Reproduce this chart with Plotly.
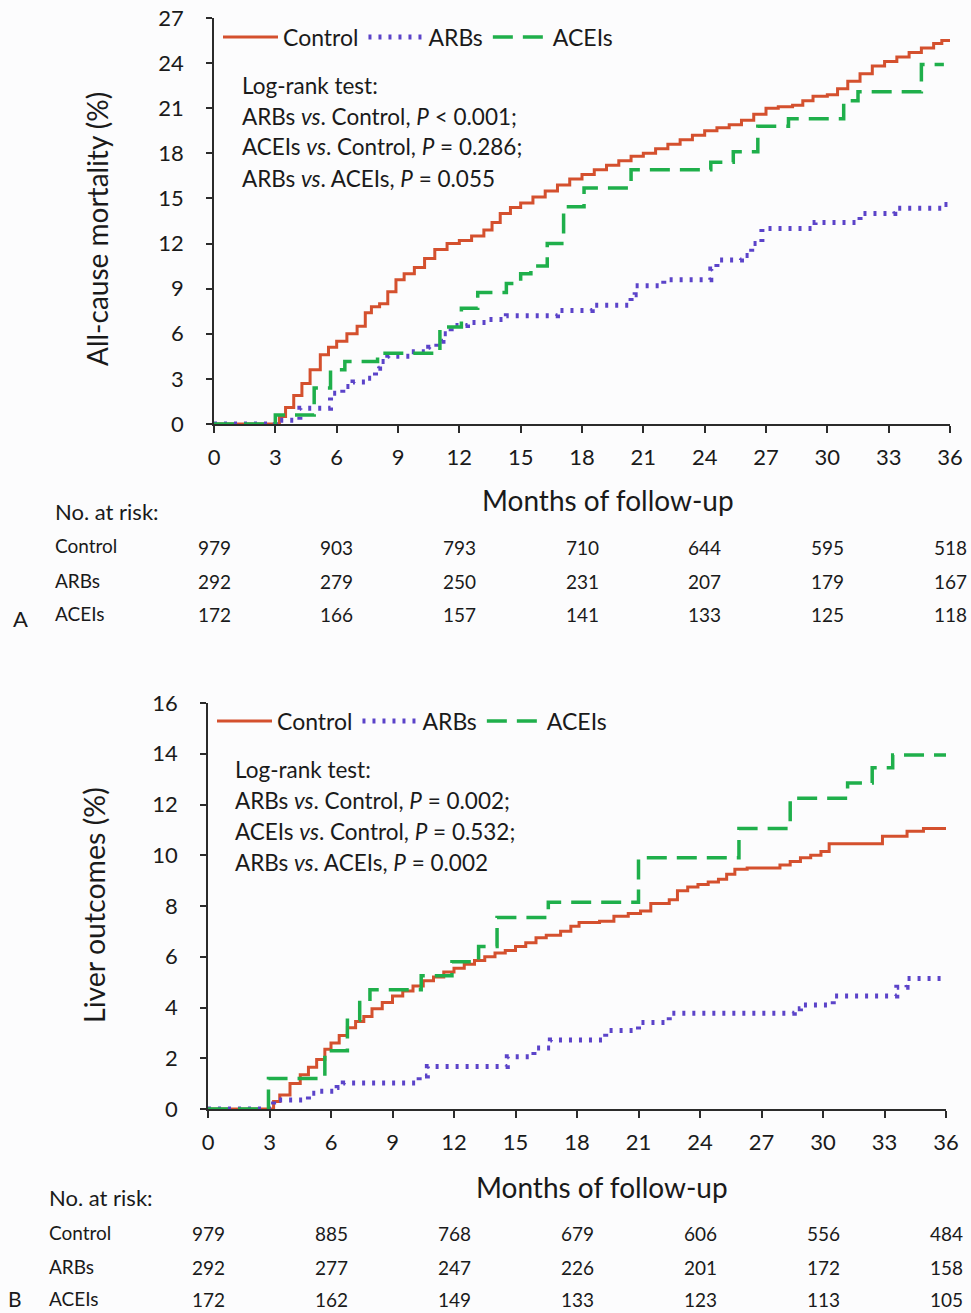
import plotly.graph_objects as go

# ---------------- Data ----------------
months_ticks = list(range(0, 37, 3))
risk_months = [0, 6, 12, 18, 24, 30, 36]

# Panel A: all-cause mortality (%)
a_ctrl_t = [0, 2.9, 3.2, 3.5, 3.9, 4.3, 4.7, 5.2, 5.6, 6.0, 6.5, 7.0, 7.4, 7.7, 8.1, 8.5, 8.9, 9.3, 9.8,
            10.3, 10.8, 11.4, 12.0, 12.6, 13.2, 13.6, 14.0, 14.5, 15.0, 15.6, 16.2, 16.8, 17.4, 18.0,
            18.6, 19.2, 19.8, 20.4, 21.0, 21.6, 22.2, 22.8, 23.4, 24.0, 24.6, 25.2, 25.8, 26.4, 27.0,
            27.6, 28.3, 28.8, 29.3, 30.0, 30.5, 31.0, 31.6, 32.2, 32.8, 33.4, 34.0, 34.6, 35.2, 35.6, 36.0]
a_ctrl_v = [0, 0, 0.5, 1.1, 1.9, 2.7, 3.6, 4.6, 5.1, 5.5, 6.0, 6.5, 7.4, 7.8, 8.0, 8.8, 9.6, 10.0, 10.4,
            11.0, 11.6, 12.0, 12.2, 12.5, 12.9, 13.4, 14.0, 14.4, 14.7, 15.1, 15.5, 15.9, 16.3, 16.6,
            16.9, 17.2, 17.5, 17.8, 18.0, 18.3, 18.6, 18.9, 19.2, 19.5, 19.7, 19.9, 20.2, 20.6, 21.0,
            21.1, 21.2, 21.5, 21.8, 21.9, 22.3, 22.8, 23.3, 23.8, 24.1, 24.4, 24.7, 25.0, 25.3, 25.5, 25.5]

a_arb_t = [0, 3.0, 4.2, 5.7, 6.3, 6.8, 7.5, 7.9, 8.1, 8.5, 9.6, 10.5, 10.9, 11.2, 11.6, 12.4, 13.3, 14.3,
           16.8, 18.5, 20.4, 20.6, 22.0, 24.3, 24.6, 25.8, 26.3, 26.8, 29.4, 31.6, 33.3, 35.6, 36.0]
a_arb_v = [0, 0.25, 1.05, 2.05, 2.5, 2.8, 3.05, 3.7, 4.15, 4.5, 4.8, 5.1, 5.5, 6.0, 6.55, 6.75, 6.95, 7.2,
           7.55, 7.9, 8.6, 9.2, 9.6, 10.3, 10.9, 11.2, 12.0, 13.0, 13.4, 14.0, 14.35, 14.6, 14.7]

a_ace_t = [0, 3.0, 4.9, 5.7, 6.4, 8.0, 11.05, 12.1, 12.9, 14.3, 15.0, 15.5, 16.3, 17.1, 18.1, 20.4,
           24.3, 25.4, 26.6, 28.1, 30.8, 31.5, 34.6, 35.7]
a_ace_v = [0, 0.6, 2.4, 3.6, 4.15, 4.7, 6.45, 7.7, 8.75, 9.35, 10.0, 10.5, 12.0, 14.45, 15.7, 16.9,
           17.4, 18.1, 19.8, 20.3, 21.5, 22.1, 23.9, 23.9]

a_risk_ctrl = [979, 903, 793, 710, 644, 595, 518]
a_risk_arb = [292, 279, 250, 231, 207, 179, 167]
a_risk_ace = [172, 166, 157, 141, 133, 125, 118]

# Panel B: liver outcomes (%)
b_ctrl_t = [0, 2.95, 3.2, 3.5, 4.0, 4.5, 4.9, 5.3, 5.7, 6.0, 6.4, 6.8, 7.2, 7.6, 8.0, 8.5, 9.0, 9.5, 10.0,
            10.5, 11.0, 11.5, 12.0, 12.5, 13.0, 13.5, 14.0, 14.5, 15.0, 15.5, 16.0, 16.5, 17.2, 17.7, 18.1,
            19.1, 19.8, 20.5, 21.1, 21.6, 22.5, 22.9, 23.4, 23.9, 24.4, 24.9, 25.3, 25.7, 26.3, 27.9, 28.4,
            28.9, 29.4, 29.9, 30.3, 32.3, 32.9, 33.9, 34.1, 34.9, 36.0]
b_ctrl_v = [0, 0, 0.3, 0.55, 1.0, 1.35, 1.65, 1.95, 2.35, 2.6, 2.9, 3.2, 3.45, 3.65, 3.95, 4.2, 4.45, 4.65, 4.85,
            5.05, 5.2, 5.4, 5.55, 5.7, 5.85, 6.0, 6.15, 6.25, 6.4, 6.55, 6.75, 6.85, 7.0, 7.2, 7.35,
            7.4, 7.6, 7.7, 7.8, 8.1, 8.25, 8.6, 8.75, 8.85, 8.95, 9.05, 9.25, 9.45, 9.5, 9.62, 9.75,
            9.9, 10.0, 10.15, 10.45, 10.45, 10.75, 10.75, 10.95, 11.05, 11.05]

b_arb_t = [0, 3.2, 4.9, 5.3, 6.3, 6.6, 10.3, 10.7, 14.6, 15.9, 16.7, 19.4, 21.0, 22.5, 28.6, 28.9, 30.5,
           33.6, 34.1, 36.0]
b_arb_v = [0, 0.35, 0.62, 0.7, 0.85, 1.02, 1.3, 1.67, 2.06, 2.4, 2.72, 3.09, 3.41, 3.77, 3.95, 4.1, 4.45,
           4.8, 5.14, 5.14]

b_ace_t = [0, 2.95, 5.7, 6.8, 7.4, 7.9, 10.4, 11.9, 13.2, 14.1, 16.6, 21.0, 25.9, 28.4, 31.2, 32.4, 33.4, 36.0]
b_ace_v = [0, 1.2, 2.3, 3.5, 4.2, 4.7, 5.25, 5.8, 6.4, 7.55, 8.15, 9.9, 11.05, 12.25, 12.85, 13.45, 13.95, 13.95]

b_risk_ctrl = [979, 885, 768, 679, 606, 556, 484]
b_risk_arb = [292, 277, 247, 226, 201, 172, 158]
b_risk_ace = [172, 162, 149, 133, 123, 113, 105]

group_names = ["Control", "ARBs", "ACEIs"]

# ---------------- Styling ----------------
W, H = 971, 1313
FONT = "Lato, 'Open Sans', sans-serif"
TXT = "#1a1a1a"
AX = "#2b2b2b"
RED = "#D4502E"
PURPLE = "#5B43C9"
GREEN = "#1FAF4B"
BG = "#FCFCFD"


def px_x(p):
    return p / W


def px_y(p):
    return 1 - p / H


fig = go.Figure()

styles = [
    dict(color=RED, width=3, dash="solid"),
    dict(color=PURPLE, width=5, dash="3px,7px"),
    dict(color=GREEN, width=3.5, dash="20px,10px"),
]

panelA = [(a_ctrl_t, a_ctrl_v), (a_arb_t, a_arb_v), (a_ace_t, a_ace_v)]
panelB = [(b_ctrl_t, b_ctrl_v), (b_arb_t, b_arb_v), (b_ace_t, b_ace_v)]

for i, (t, v) in enumerate(panelA):
    fig.add_trace(go.Scatter(x=t, y=v, mode="lines", line=dict(shape="hv", **styles[i]),
                             name=group_names[i], xaxis="x", yaxis="y", legend="legend"))
for i, (t, v) in enumerate(panelB):
    fig.add_trace(go.Scatter(x=t, y=v, mode="lines", line=dict(shape="hv", **styles[i]),
                             name=group_names[i], xaxis="x2", yaxis="y2", legend="legend2"))

axis_common = dict(showline=True, linecolor=AX, linewidth=1.5, ticks="outside", tickcolor=AX,
                   tickwidth=1.5, showgrid=False, zeroline=False, automargin=False,
                   tickfont=dict(family=FONT, size=22, color=TXT))

fig.update_layout(
    width=W, height=H,
    margin=dict(l=0, r=0, t=0, b=0, autoexpand=False),
    paper_bgcolor=BG, plot_bgcolor=BG,
    showlegend=True,
    xaxis=dict(domain=[px_x(214), px_x(950)], range=[0, 36], tickvals=months_ticks, ticklen=7,
               ticklabelstandoff=6, anchor="y", **axis_common),
    yaxis=dict(domain=[px_y(424), px_y(18)], range=[0, 27], tickvals=list(range(0, 28, 3)), ticklen=6,
               ticklabelstandoff=18, anchor="x", **axis_common),
    xaxis2=dict(domain=[px_x(208), px_x(946)], range=[0, 36], tickvals=months_ticks, ticklen=7,
                ticklabelstandoff=6, anchor="y2", **axis_common),
    yaxis2=dict(domain=[px_y(1109), px_y(703)], range=[0, 16], tickvals=list(range(0, 17, 2)), ticklen=6,
                ticklabelstandoff=18, anchor="x2", **axis_common),
    legend=dict(orientation="h", x=px_x(218), y=px_y(37), xanchor="left", yanchor="middle",
                bgcolor="rgba(0,0,0,0)", font=dict(family=FONT, size=23, color=TXT),
                itemwidth=55, tracegroupgap=0),
    legend2=dict(orientation="h", x=px_x(212), y=px_y(721), xanchor="left", yanchor="middle",
                 bgcolor="rgba(0,0,0,0)", font=dict(family=FONT, size=23, color=TXT),
                 itemwidth=55, tracegroupgap=0),
)

ann = []


def text(x, y, s, size, xanchor="left", xref="paper", angle=0):
    ann.append(dict(x=x, y=y, xref=xref, yref="paper", text=s, showarrow=False, xanchor=xanchor,
                    yanchor="middle", textangle=angle, font=dict(family=FONT, size=size, color=TXT)))


# Log-rank texts
logA = ["Log-rank test:",
        "ARBs <i>vs</i>. Control, <i>P</i> < 0.001;",
        "ACEIs <i>vs</i>. Control, <i>P</i> = 0.286;",
        "ARBs <i>vs</i>. ACEIs, <i>P</i> = 0.055"]
logB = ["Log-rank test:",
        "ARBs <i>vs</i>. Control, <i>P</i> = 0.002;",
        "ACEIs <i>vs</i>. Control, <i>P</i> = 0.532;",
        "ARBs <i>vs</i>. ACEIs, <i>P</i> = 0.002"]
for k, s in enumerate(logA):
    text(px_x(240), px_y(85 + 31 * k), s, 22.5)
for k, s in enumerate(logB):
    text(px_x(233), px_y(769 + 31.3 * k), s, 22.5)

# Axis titles
text(px_x(97), px_y(229), "All-cause mortality (%)", 28, xanchor="center", angle=-90)
text(px_x(94), px_y(905), "Liver outcomes (%)", 28.5, xanchor="center", angle=-90)
text(px_x(608), px_y(500), "Months of follow-up", 28, xanchor="center")
text(px_x(602), px_y(1187), "Months of follow-up", 28, xanchor="center")

# Risk tables
text(px_x(53), px_y(512), "No. at risk:", 22)
text(px_x(47), px_y(1197), "No. at risk:", 22)
rowsA = [(a_risk_ctrl, 547), (a_risk_arb, 581), (a_risk_ace, 614)]
rowsB = [(b_risk_ctrl, 1233), (b_risk_arb, 1267), (b_risk_ace, 1299)]
for (vals, yy), name in zip(rowsA, group_names):
    text(px_x(53), px_y(yy - 1), name, 19)
    for m, n in zip(risk_months, vals):
        text(m, px_y(yy), str(n), 19, xanchor="center", xref="x")
for (vals, yy), name in zip(rowsB, group_names):
    text(px_x(47), px_y(yy - 1), name, 19)
    for m, n in zip(risk_months, vals):
        text(m, px_y(yy), str(n), 19, xanchor="center", xref="x2")

text(px_x(11), px_y(618), "A", 22)
text(px_x(6), px_y(1298), "B", 21)

fig.update_layout(annotations=ann)
fig.write_html("out.html", config={"displayModeBar": False},
               post_script="document.body.style.margin='0';document.body.style.padding='0';"
                           "document.body.style.overflow='hidden';")
